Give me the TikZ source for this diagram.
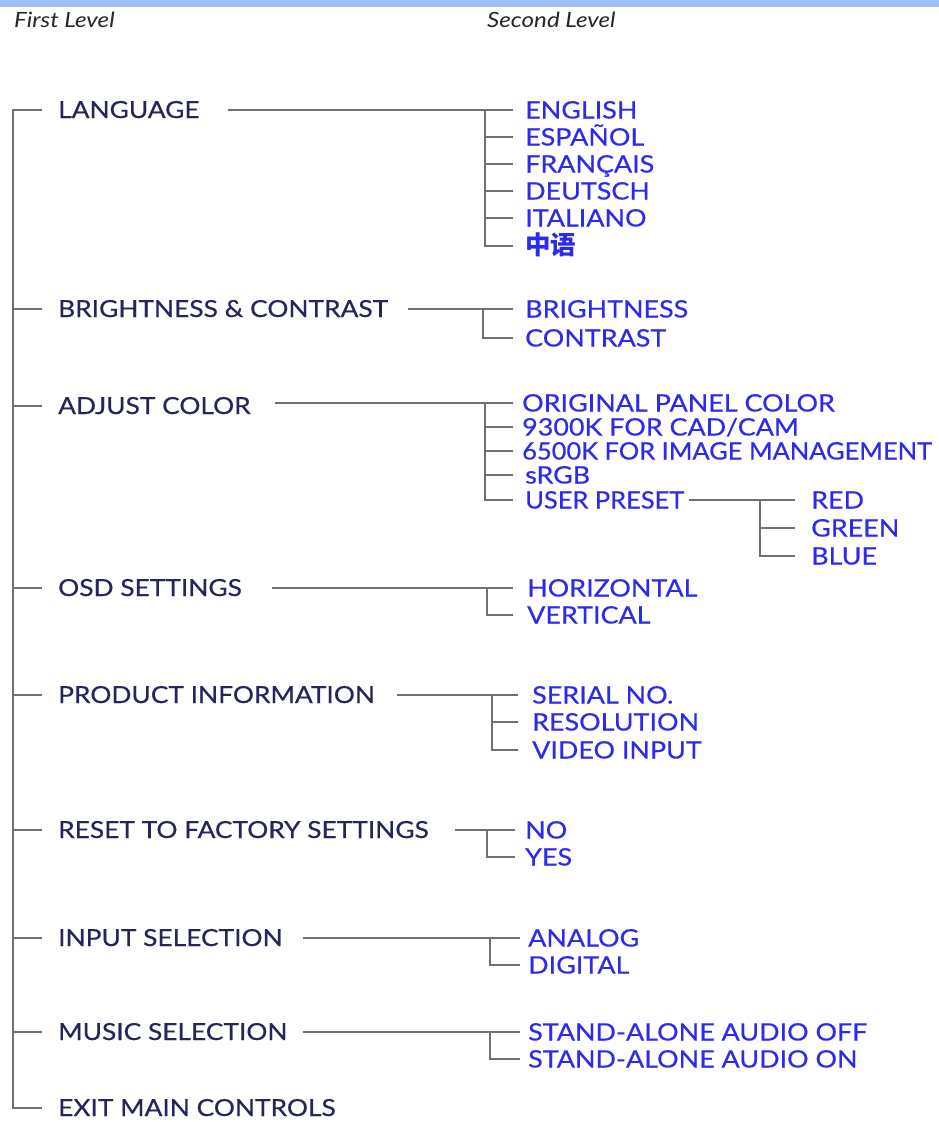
\documentclass[tikz,border=0pt]{standalone}
\usepackage{fontspec}
\setmainfont{Lato}[FakeStretch=1.12,FakeBold=0.5]
\newfontfamily\narrowfont{Lato}[FakeStretch=1.06,FakeBold=0.5]
\newfontfamily\hdrfont{Lato}[FakeStretch=1.15]
\newfontfamily\cjk{Noto Sans CJK SC}
\definecolor{topbar}{HTML}{9DBDF5}
\definecolor{navy}{HTML}{25255E}
\definecolor{itemblue}{HTML}{2B2BF0}
\definecolor{linegray}{HTML}{707070}
\begin{document}
\begin{tikzpicture}[x=1pt,y=-1pt,
  conn/.style={draw=linegray,line width=1.7pt},
  lvone/.style={anchor=west,inner xsep=16pt,inner ysep=0pt,text height=16pt,text depth=0pt,
    font=\fontsize{23.5}{25}\selectfont,text=navy},
  lvtwo/.style={anchor=west,inner xsep=12pt,inner ysep=0pt,text height=17pt,text depth=0pt,
    font=\fontsize{24}{26}\selectfont,text=itemblue},
  hdr/.style={anchor=west,inner sep=0pt,font=\hdrfont\itshape\fontsize{21}{23}\selectfont,text=black!85}]
\useasboundingbox (0,0) rectangle (939,1122);
\fill[topbar] (0,0) rectangle (939,7);
\node[hdr] (h1) at (14,20) {First Level};
\node[hdr] (h2) at (487,20) {Second Level};
% first level
\node[lvone] (lang) at (42,110) {LANGUAGE};
\node[lvone] (bc) at (42,309) {BRIGHTNESS \& CONTRAST};
\node[lvone] (adj) at (42,406) {ADJUST COLOR};
\node[lvone] (osd) at (42,588) {OSD SETTINGS};
\node[lvone] (prod) at (42,695) {PRODUCT INFORMATION};
\node[lvone] (reset) at (42,830) {RESET TO FACTORY SETTINGS};
\node[lvone] (inp) at (42,938) {INPUT SELECTION};
\node[lvone] (mus) at (42,1032) {MUSIC SELECTION};
\node[lvone] (exit) at (42,1108) {EXIT MAIN CONTROLS};
\coordinate (spine) at (13,1108);
\draw[conn] (lang.west) -| (spine) -- (exit.west);
\foreach \n in {bc,adj,osd,prod,reset,inp,mus}{\draw[conn] (\n.west) -- (\n.west -| spine);}
% language
\node[lvtwo] (en) at (513,110) {ENGLISH};
\node[lvtwo] (es) at (513,137) {ESPAÑOL};
\node[lvtwo] (fr) at (513,164) {FRANÇAIS};
\node[lvtwo] (de) at (513,191) {DEUTSCH};
\node[lvtwo] (it) at (513,218) {ITALIANO};
\node[lvtwo,font=\cjk\bfseries\fontsize{25.5}{27}\selectfont] (zh) at (513,246) {中语};
\coordinate (langS) at (228,110);
\coordinate (jLang) at (485,110);
\draw[conn] (langS) -- (en.west);
\draw[conn] (jLang) |- (zh.west);
\foreach \n in {es,fr,de,it}{\draw[conn] (\n.west -| jLang) -- (\n.west);}
% brightness
\node[lvtwo] (bri) at (513,309) {BRIGHTNESS};
\node[lvtwo] (con) at (513,338) {CONTRAST};
\coordinate (bcS) at (408,309);
\coordinate (jBc) at (483,309);
\draw[conn] (bcS) -- (bri.west);
\draw[conn] (jBc) |- (con.west);
% adjust color
\node[lvtwo,inner xsep=9pt] (orig) at (513,403) {ORIGINAL PANEL COLOR};
\node[lvtwo,inner xsep=9pt] (k93) at (513,427) {9300K FOR CAD/CAM};
\node[lvtwo,inner xsep=9pt,font=\narrowfont\fontsize{24}{26}\selectfont] (k65) at (513,451) {6500K FOR IMAGE MANAGEMENT};
\node[lvtwo] (srgb) at (513,475) {sRGB};
\node[lvtwo,font=\narrowfont\fontsize{24}{26}\selectfont] (user) at (513,500) {USER PRESET};
\coordinate (adjS) at (275,403);
\coordinate (jAdj) at (485,403);
\draw[conn] (adjS) -- (orig.west);
\draw[conn] (jAdj) |- (user.west);
\foreach \n in {k93,k65,srgb}{\draw[conn] (\n.west -| jAdj) -- (\n.west);}
\node[lvtwo,inner xsep=16pt] (red) at (795,500) {RED};
\node[lvtwo,inner xsep=16pt] (green) at (795,528) {GREEN};
\node[lvtwo,inner xsep=16pt] (blue) at (795,556) {BLUE};
\coordinate (upS) at (689,500);
\coordinate (jUp) at (760,500);
\draw[conn] (upS) -- (red.west);
\draw[conn] (jUp) |- (blue.west);
\draw[conn] (green.west -| jUp) -- (green.west);
% osd
\node[lvtwo,inner xsep=14pt] (hor) at (513,588) {HORIZONTAL};
\node[lvtwo,inner xsep=14pt] (ver) at (513,615) {VERTICAL};
\coordinate (osdS) at (272,588);
\coordinate (jOsd) at (487,588);
\draw[conn] (osdS) -- (hor.west);
\draw[conn] (jOsd) |- (ver.west);
% product
\node[lvtwo,inner xsep=14pt] (ser) at (518,695) {SERIAL NO.};
\node[lvtwo,inner xsep=14pt] (res) at (518,722) {RESOLUTION};
\node[lvtwo,inner xsep=14pt] (vid) at (518,750) {VIDEO INPUT};
\coordinate (prodS) at (397,695);
\coordinate (jProd) at (492,695);
\draw[conn] (prodS) -- (ser.west);
\draw[conn] (jProd) |- (vid.west);
\draw[conn] (res.west -| jProd) -- (res.west);
% reset
\node[lvtwo,inner xsep=10pt] (no) at (515,830) {NO};
\node[lvtwo,inner xsep=10pt] (yes) at (515,857) {YES};
\coordinate (resS) at (455,830);
\coordinate (jRes) at (487,830);
\draw[conn] (resS) -- (no.west);
\draw[conn] (jRes) |- (yes.west);
% input
\node[lvtwo,inner xsep=8pt] (ana) at (520,938) {ANALOG};
\node[lvtwo,inner xsep=8pt] (dig) at (520,965) {DIGITAL};
\coordinate (inpS) at (303,938);
\coordinate (jInp) at (490,938);
\draw[conn] (inpS) -- (ana.west);
\draw[conn] (jInp) |- (dig.west);
% music
\node[lvtwo,inner xsep=8pt] (off) at (520,1032) {STAND-ALONE AUDIO OFF};
\node[lvtwo,inner xsep=8pt] (on) at (520,1059) {STAND-ALONE AUDIO ON};
\coordinate (musS) at (303,1032);
\coordinate (jMus) at (490,1032);
\draw[conn] (musS) -- (off.west);
\draw[conn] (jMus) |- (on.west);
\end{tikzpicture}
\end{document}
